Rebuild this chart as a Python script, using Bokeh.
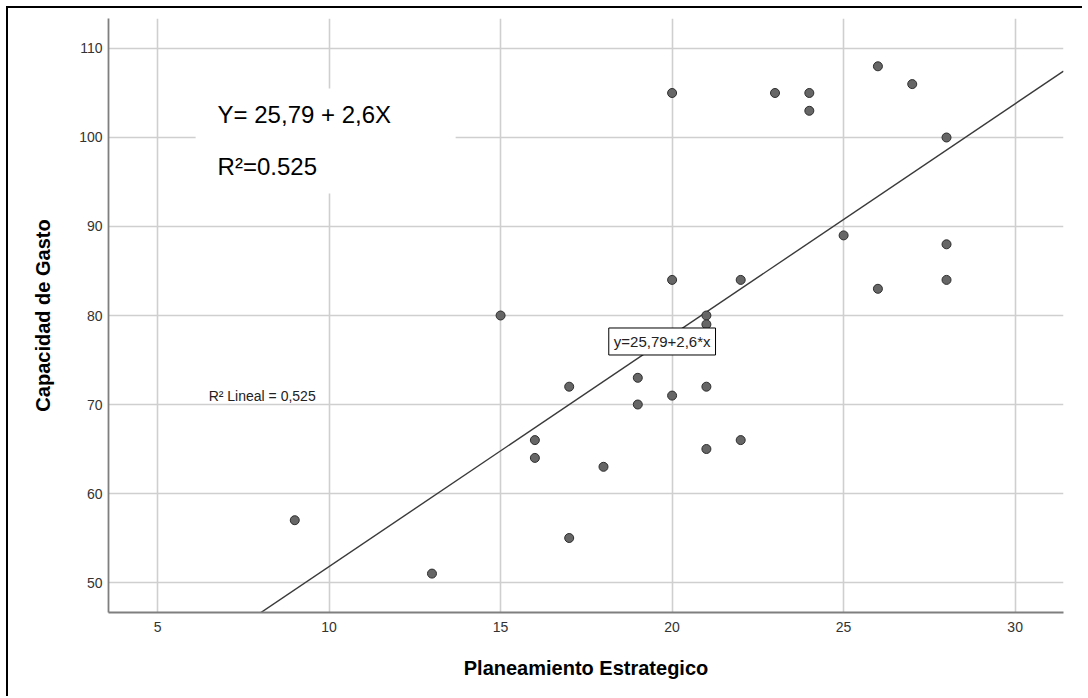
from bokeh.plotting import figure
from bokeh.models import Range1d, FixedTicker, Label, BoxAnnotation, ColumnDataSource
from bokeh.embed import file_html
from bokeh.resources import INLINE

# ---- data ----
planeamiento = [9, 13, 15, 16, 16, 17, 17, 18, 19, 19, 20, 20, 20, 21, 21, 21, 21,
                22, 22, 23, 24, 24, 25, 26, 26, 27, 28, 28, 28]
capacidad = [57, 51, 80, 66, 64, 72, 55, 63, 73, 70, 105, 84, 71, 80, 79, 72, 65,
             84, 66, 105, 105, 103, 89, 108, 83, 106, 100, 88, 84]
x_ticks = [5, 10, 15, 20, 25, 30]
y_ticks = [50, 60, 70, 80, 90, 100, 110]
intercept = 25.79
slope = 2.6
eq_text_big = "Y= 25,79 + 2,6X"
r2_text_big = "R\u00b2=0.525"
r2_text_small = "R\u00b2 Lineal = 0,525"
eq_text_small = "y=25,79+2,6*x"

x_min, x_max = 3.57, 31.41
y_min, y_max = 46.63, 113.37

FONT = "Liberation Sans"

p = figure(width=1076, height=690, x_range=Range1d(x_min, x_max), y_range=Range1d(y_min, y_max),
           output_backend="svg", toolbar_location=None,
           min_border_left=100, min_border_right=21, min_border_top=10, min_border_bottom=86)
p.margin = (6, 0, 0, 6)
p.styles = {"border-top": "2px solid #000000", "border-left": "2px solid #000000"}
p.outline_line_color = None
p.background_fill_color = "white"
p.border_fill_color = "white"

# grid
for g in (p.xgrid, p.ygrid):
    g.grid_line_color = "#cfcfcf"
    g.grid_line_width = 1.6
p.xgrid.ticker = FixedTicker(ticks=x_ticks)
p.ygrid.ticker = FixedTicker(ticks=y_ticks)

# axes
p.xaxis.ticker = FixedTicker(ticks=x_ticks)
p.yaxis.ticker = FixedTicker(ticks=y_ticks)
for ax in (p.xaxis[0], p.yaxis[0]):
    ax.axis_line_color = "#7f7f7f"
    ax.axis_line_width = 1.8
    ax.major_tick_line_color = None
    ax.minor_tick_line_color = None
    ax.major_tick_out = 0
    ax.major_tick_in = 0
    ax.minor_tick_out = 0
    ax.major_label_text_font = FONT
    ax.major_label_text_font_size = "14px"
    ax.major_label_text_color = "#333333"
    ax.axis_label_text_font = FONT
    ax.axis_label_text_font_size = "20px"
    ax.axis_label_text_font_style = "bold"
    ax.axis_label_text_color = "#000000"
p.xaxis.axis_label = "Planeamiento Estrategico"
p.yaxis.axis_label = "Capacidad de Gasto"
p.xaxis.major_label_standoff = 9
p.yaxis.major_label_standoff = 6
p.xaxis.axis_label_standoff = 22
p.yaxis.axis_label_standoff = 22

# regression line (clipped by frame)
line_x = [x_min, x_max]
line_y = [intercept + slope * v for v in line_x]
p.line(line_x, line_y, line_color="#3a3a3a", line_width=1.4)

# points
src = ColumnDataSource(dict(x=planeamiento, y=capacidad))
p.scatter("x", "y", source=src, marker="circle", size=9,
          fill_color="#666666", line_color="#2e2e2e", line_width=1)

# white box behind big annotation
box = BoxAnnotation(left=6.11, right=13.69, bottom=93.71, top=105.51,
                    fill_color="white", fill_alpha=1.0, line_color=None)
p.add_layout(box)

p.add_layout(Label(x=6.75, y=102.6, text=eq_text_big, text_font=FONT, text_font_size="24px",
                   text_color="#000000", text_align="left", text_baseline="middle"))
p.add_layout(Label(x=6.75, y=96.74, text=r2_text_big, text_font=FONT, text_font_size="24px",
                   text_color="#000000", text_align="left", text_baseline="middle"))
p.add_layout(Label(x=6.49, y=71.0, text=r2_text_small, text_font=FONT, text_font_size="14px",
                   text_color="#222222", text_align="left", text_baseline="middle"))
p.add_layout(Label(x=19.71, y=77.08, text=eq_text_small, text_font=FONT, text_font_size="15px",
                   text_color="#222222", text_align="center", text_baseline="middle",
                   background_fill_color="white", background_fill_alpha=1.0,
                   border_line_color="#000000", border_line_width=1, padding=5))

open("out.html", "w").write(file_html(p, INLINE))
